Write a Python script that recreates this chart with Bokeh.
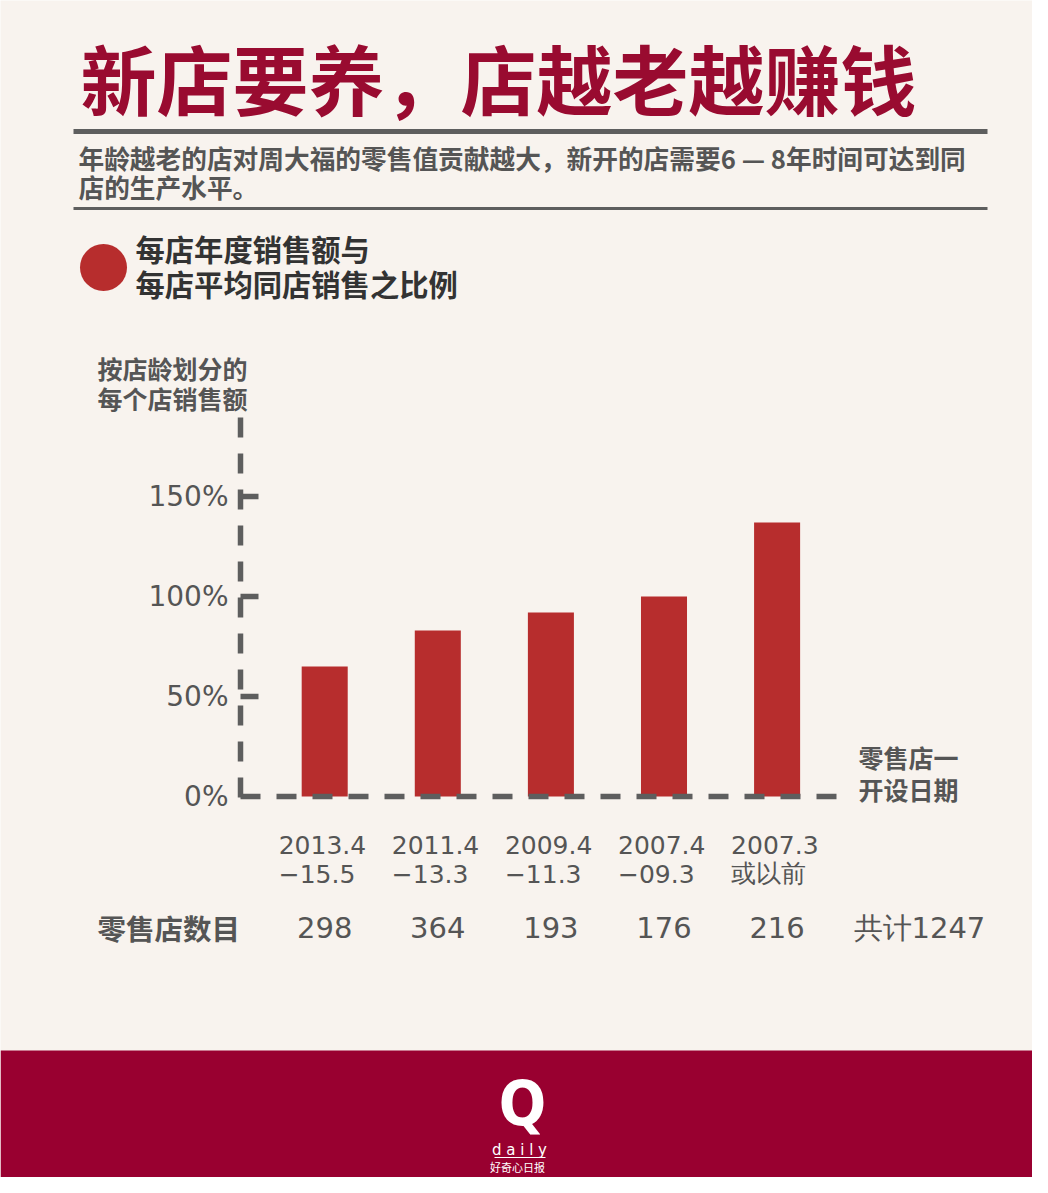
from bokeh.plotting import figure
from bokeh.models import Range1d
from bokeh.core.properties import value
from bokeh.embed import file_html
from bokeh.resources import INLINE

# ---------------- data ----------------
period_line1 = ["2013.4", "2011.4", "2009.4", "2007.4", "2007.3"]
period_line2 = ["−15.5", "−13.3", "−11.3", "−09.3", "或以前"]
sales_ratio_pct = [65, 83, 92, 100, 137]
store_counts = ["298", "364", "193", "176", "216"]
total_label = "共计1247"
y_ticks = [0, 50, 100, 150]
y_tick_labels = ["0%", "50%", "100%", "150%"]

title = "新店要养，店越老越赚钱"
subtitle1 = "年龄越老的店对周大福的零售值贡献越大，新开的店需要6 — 8年时间可达到同"
subtitle2 = "店的生产水平。"
legend1 = "每店年度销售额与"
legend2 = "每店平均同店销售之比例"
ytitle1 = "按店龄划分的"
ytitle2 = "每个店销售额"
xtitle1 = "零售店一"
xtitle2 = "开设日期"
count_title = "零售店数目"

# ---------------- style ----------------
BG = "#f8f3ee"
BAR = "#b72d2d"
TITLE_C = "#990b30"
FOOT = "#990030"
GRAY = "#5e5e5e"
TXT = "#555555"
DARK = "#333333"
FONT = value("Noto Sans CJK SC")
NUM = value("DejaVu Sans")

W, H = 1032, 1177
idx = list(range(len(sales_ratio_pct)))

p = figure(width=W, height=H,
           x_range=Range1d(-2.8665, 6.2582), y_range=Range1d(-190.5, 398),
           output_backend="svg", toolbar_location=None,
           x_axis_type=None, y_axis_type=None, min_border=0,
           outline_line_color=None, background_fill_color=BG,
           border_fill_color=BG)
p.extra_x_ranges = {"px": Range1d(0, W)}
p.extra_y_ranges = {"py": Range1d(H, 0)}

# footer band
p.quad(left=[0], right=[W + 20], top=[1050], bottom=[H + 20],
       x_range_name="px", y_range_name="py", color=FOOT, line_color=None)

# title
p.text(x=[80], y=[76], text=[title], x_range_name="px", y_range_name="py",
       text_font=FONT, text_font_style="bold", text_font_size="76px",
       text_color=TITLE_C, text_baseline="middle", text_align="left")

# rules
p.segment(x0=[73], x1=[987], y0=[131], y1=[131], x_range_name="px", y_range_name="py",
          line_color=GRAY, line_width=5)
p.segment(x0=[73], x1=[987], y0=[208], y1=[208], x_range_name="px", y_range_name="py",
          line_color=GRAY, line_width=3)

# subtitle
p.text(x=[78, 78], y=[157, 186], text=[subtitle1, subtitle2], x_range_name="px", y_range_name="py",
       text_font=FONT, text_font_style="bold", text_font_size="25.7px",
       text_color=TXT, text_baseline="middle", text_align="left")

# legend
p.scatter(x=[103], y=[267], size=47, x_range_name="px", y_range_name="py",
          fill_color=BAR, line_color=None)
p.text(x=[135, 135], y=[247, 282], text=[legend1, legend2], x_range_name="px", y_range_name="py",
       text_font=FONT, text_font_style="bold", text_font_size="29.3px",
       text_color=DARK, text_baseline="middle", text_align="left")

# y title
p.text(x=[97, 97], y=[367, 397], text=[ytitle1, ytitle2], x_range_name="px", y_range_name="py",
       text_font=FONT, text_font_style="bold", text_font_size="25px",
       text_color=TXT, text_baseline="middle", text_align="left")

# bars
p.vbar(x=idx, top=sales_ratio_pct, bottom=0, width=0.407, fill_color=BAR, line_color=None)

# y axis (dashed) with tick stubs
p.segment(x0=[240], x1=[240], y0=[417], y1=[798], x_range_name="px", y_range_name="py",
          line_color=GRAY, line_width=5.5, line_dash="20 16")
p.segment(x0=[240] * 3, x1=[258] * 3, y0=y_ticks[1:], y1=y_ticks[1:], x_range_name="px",
          line_color=GRAY, line_width=5.5)
p.segment(x0=[240], x1=[842], y0=[0], y1=[0], x_range_name="px",
          line_color=GRAY, line_width=5.5, line_dash="20 16")
p.text(x=[228] * len(y_ticks), y=y_ticks, text=y_tick_labels, x_range_name="px",
       text_font=NUM, text_font_size="28px", text_color=TXT,
       text_baseline="middle", text_align="right")

# x title (right)
p.text(x=[858, 858], y=[756, 788], text=[xtitle1, xtitle2], x_range_name="px", y_range_name="py",
       text_font=FONT, text_font_style="bold", text_font_size="25px",
       text_color=TXT, text_baseline="middle", text_align="left")

# category labels
p.text(x=idx, y=[844] * len(idx), text=period_line1, y_range_name="py", x_offset=-46,
       text_font=NUM, text_font_size="25px", text_color=TXT,
       text_baseline="middle", text_align="left")
p.text(x=idx, y=[873] * len(idx), text=period_line2, y_range_name="py", x_offset=-46,
       text_font=NUM, text_font_size="25px", text_color=TXT,
       text_baseline="middle", text_align="left")

# counts row
p.text(x=[97], y=[927], text=[count_title], x_range_name="px", y_range_name="py",
       text_font=FONT, text_font_style="bold", text_font_size="28.5px", text_color=TXT,
       text_baseline="middle", text_align="left")
p.text(x=idx, y=[927] * len(idx), text=store_counts, y_range_name="py",
       text_font=NUM, text_font_size="29px", text_color=TXT,
       text_baseline="middle", text_align="center")
p.text(x=[853], y=[927], text=[total_label], x_range_name="px", y_range_name="py",
       text_font=NUM, text_font_size="29px", text_color=TXT,
       text_baseline="middle", text_align="left")

# footer logo
p.text(x=[522], y=[1103], text=["Q"], x_range_name="px", y_range_name="py",
       text_font=value("DejaVu Sans Condensed"), text_font_style="bold", text_font_size="62px",
       text_color="white", text_baseline="middle", text_align="center")
p.text(x=[519], y=[1149], text=["d a i l y"], x_range_name="px", y_range_name="py",
       text_font=value("DejaVu Sans"), text_font_size="15px",
       text_color="white", text_baseline="middle", text_align="center")
p.segment(x0=[494], x1=[545], y0=[1157], y1=[1157], x_range_name="px", y_range_name="py",
          line_color="white", line_width=1)
p.text(x=[517], y=[1166], text=["好奇心日报"], x_range_name="px", y_range_name="py",
       text_font=FONT, text_font_size="11px",
       text_color="white", text_baseline="middle", text_align="center")

open("out.html", "w").write(file_html(p, INLINE))
